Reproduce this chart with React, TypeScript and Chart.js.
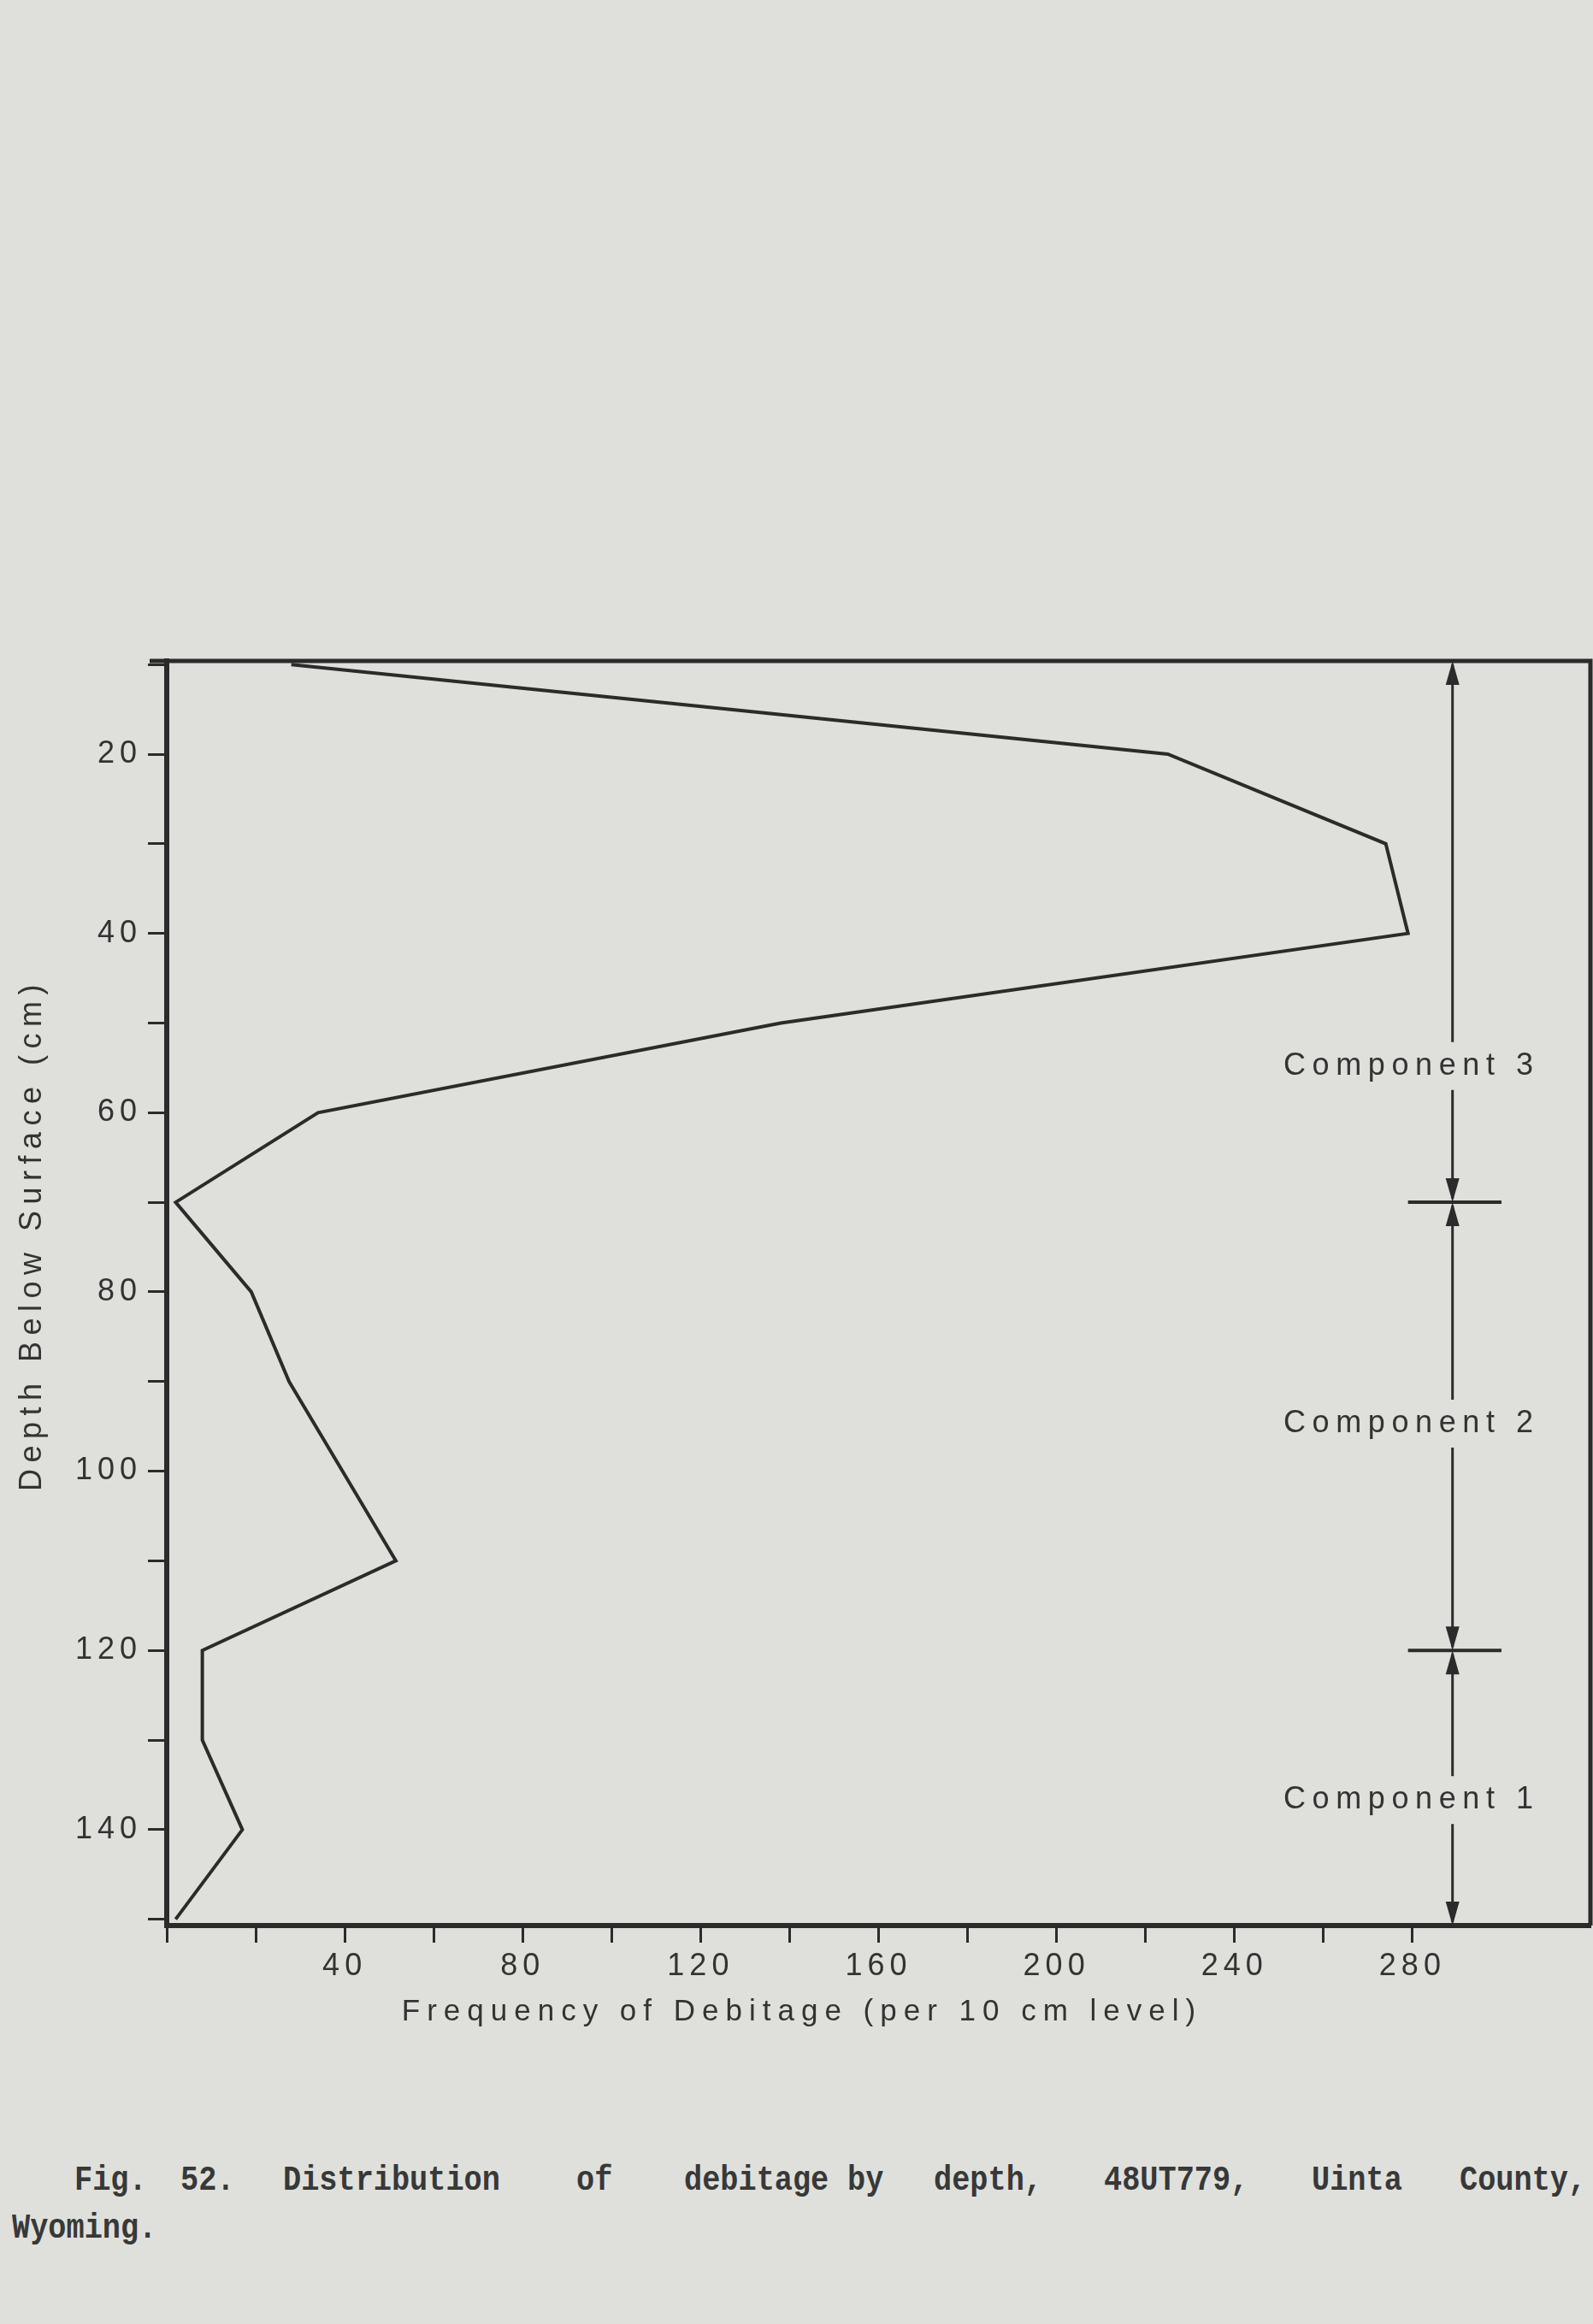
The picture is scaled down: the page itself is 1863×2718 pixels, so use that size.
import React, { useEffect, useRef } from "react";
import { Chart, registerables } from "chart.js";

Chart.register(...registerables);

// ---- data ----
const depths = [10, 20, 30, 40, 50, 60, 70, 80, 90, 100, 110, 120, 130, 140, 150];
const frequencies = [28, 225, 274, 279, 138, 34, 2, 19, 27.5, 39.5, 51.5, 8, 8, 17, 2];

const xTickValues = [0, 20, 40, 60, 80, 100, 120, 140, 160, 180, 200, 220, 240, 260, 280];
const xTickLabels = [40, 80, 120, 160, 200, 240, 280];
const yTickValues = [10, 20, 30, 40, 50, 60, 70, 80, 90, 100, 110, 120, 130, 140, 150];
const yTickLabels = [20, 40, 60, 80, 100, 120, 140];

const componentNames = ["Component 3", "Component 2", "Component 1"];
const componentTops = [10, 70, 120];
const componentBottoms = [70, 120, 150];
const componentLabelDepths = [54.8, 94.7, 136.7];
const bracketFrequency = 289;
const dividerFrom = 279;
const dividerTo = 300;
const labelStartFrequency = 251;

const xTitle = "Frequency of Debitage (per 10 cm level)";
const yTitle = "Depth Below Surface (cm)";
const captionWords = ["Fig.", "52.", "Distribution", "of", "debitage", "by", "depth,", "48UT779,", "Uinta", "County,"];
const captionLine2 = "Wyoming.";

// ---- styles ----
const PAPER = "#dfe0db";
const INK = "#2b2b2b";
const TEXT = "#333333";
const SANS = '"Liberation Sans", Arial, Helvetica, sans-serif';
const captionLefts = [87, 211, 331, 674, 800, 991, 1092, 1291, 1534, 1707];

const annotPlugin = {
  id: "annot",
  beforeDraw(chart: any) {
    chart.ctx.letterSpacing = "6px";
  },
  afterDraw(chart: any) {
    const { ctx, chartArea: ca, scales } = chart;
    const x = scales.x;
    const y = scales.y;
    ctx.save();
    ctx.letterSpacing = "0px";
    ctx.strokeStyle = INK;
    ctx.fillStyle = INK;

    // top and right frame
    ctx.lineWidth = 5;
    ctx.beginPath();
    ctx.moveTo(ca.left - 20, ca.top);
    ctx.lineTo(ca.right, ca.top);
    ctx.lineTo(ca.right, ca.bottom);
    ctx.stroke();

    const clampY = (v: number) => Math.min(ca.bottom, Math.max(ca.top, y.getPixelForValue(v)));
    const bx = x.getPixelForValue(bracketFrequency);
    const aLen = 28;
    const aHalf = 8;
    const gap = 28;

    const arrow = (tipY: number, dir: number) => {
      ctx.beginPath();
      ctx.moveTo(bx, tipY);
      ctx.lineTo(bx - aHalf, tipY + dir * aLen);
      ctx.lineTo(bx + aHalf, tipY + dir * aLen);
      ctx.closePath();
      ctx.fill();
    };

    ctx.font = `36px ${SANS}`;
    ctx.textBaseline = "middle";
    ctx.textAlign = "left";
    componentNames.forEach((name, i) => {
      const top = i === 0 ? ca.top : clampY(componentTops[i]);
      const bottom = i === componentNames.length - 1 ? ca.bottom : clampY(componentBottoms[i]);
      const ly = y.getPixelForValue(componentLabelDepths[i]);
      ctx.lineWidth = 3;
      ctx.beginPath();
      ctx.moveTo(bx, top + 4);
      ctx.lineTo(bx, ly - gap);
      ctx.moveTo(bx, ly + gap);
      ctx.lineTo(bx, bottom - 4);
      ctx.stroke();
      arrow(top, 1);
      arrow(bottom, -1);
      ctx.save();
      ctx.letterSpacing = "7.6px";
      ctx.fillStyle = TEXT;
      ctx.fillText(name, x.getPixelForValue(labelStartFrequency), ly);
      ctx.restore();
    });

    // divider bars
    ctx.lineWidth = 4;
    componentTops.slice(1).forEach((d) => {
      const py = y.getPixelForValue(d);
      ctx.beginPath();
      ctx.moveTo(x.getPixelForValue(dividerFrom), py);
      ctx.lineTo(x.getPixelForValue(dividerTo), py);
      ctx.stroke();
    });

    // axis titles
    ctx.fillStyle = TEXT;
    ctx.textAlign = "center";
    ctx.textBaseline = "middle";
    ctx.font = `35px ${SANS}`;
    ctx.letterSpacing = "8px";
    ctx.fillText(xTitle, 938, ca.bottom + 101);

    ctx.save();
    ctx.translate(38, y.getPixelForValue(74));
    ctx.rotate(-Math.PI / 2);
    ctx.font = `36px ${SANS}`;
    ctx.letterSpacing = "7.5px";
    ctx.fillText(yTitle, 4, 0);
    ctx.restore();

    ctx.restore();
  },
};

export default function App() {
  const canvasRef = useRef<HTMLCanvasElement | null>(null);

  useEffect(() => {
    const canvas = canvasRef.current;
    if (!canvas) return;
    const chart = new Chart(canvas, {
      type: "line",
      data: {
        datasets: [
          {
            data: depths.map((d, i) => ({ x: frequencies[i], y: d })),
            borderColor: INK,
            borderWidth: 4,
            pointRadius: 0,
            fill: false,
            tension: 0,
          },
        ],
      },
      options: {
        animation: false,
        responsive: false,
        maintainAspectRatio: false,
        layout: { padding: { left: 0, right: 3, top: 73, bottom: 0 } },
        plugins: {
          legend: { display: false },
          tooltip: { enabled: false },
        },
        scales: {
          x: {
            type: "linear",
            position: "bottom",
            min: 0,
            max: 320,
            afterBuildTicks: (s: any) => {
              s.ticks = xTickValues.map((v) => ({ value: v }));
            },
            afterFit: (s: any) => {
              s.height = 168;
            },
            ticks: {
              autoSkip: false,
              maxRotation: 0,
              padding: 6,
              color: TEXT,
              font: { family: SANS, size: 36 },
              callback: (v: any) => (xTickLabels.includes(Number(v)) ? String(v) : ""),
            },
            grid: {
              display: true,
              drawOnChartArea: false,
              drawTicks: true,
              tickLength: 20,
              tickWidth: 3,
              tickColor: INK,
            },
            border: { display: true, color: INK, width: 6 },
          },
          y: {
            type: "linear",
            position: "left",
            reverse: true,
            min: 9.6,
            max: 150.7,
            afterBuildTicks: (s: any) => {
              s.ticks = yTickValues.map((v) => ({ value: v }));
            },
            afterFit: (s: any) => {
              s.width = 195;
            },
            ticks: {
              autoSkip: false,
              padding: 7,
              color: TEXT,
              font: { family: SANS, size: 36 },
              callback: (v: any) => (yTickLabels.includes(Number(v)) ? String(v) : ""),
            },
            grid: {
              display: true,
              drawOnChartArea: false,
              drawTicks: true,
              tickLength: 22,
              tickWidth: 3,
              tickColor: INK,
            },
            border: { display: true, color: INK, width: 6 },
          },
        },
      },
      plugins: [annotPlugin],
    } as any);
    return () => chart.destroy();
  }, []);

  const capStyle: React.CSSProperties = {
    position: "absolute",
    fontFamily: '"Liberation Mono", "DejaVu Sans Mono", monospace',
    fontSize: 41,
    fontWeight: "bold",
    lineHeight: "41px",
    color: "#383838",
    whiteSpace: "nowrap",
    transform: "scaleX(0.86)",
    transformOrigin: "left center",
  };

  return (
    <div
      style={{
        position: "absolute",
        left: 0,
        top: 0,
        width: 1863,
        height: 2718,
        background: PAPER,
        overflow: "hidden",
      }}
    >
      <canvas
        ref={canvasRef}
        width={1863}
        height={1720}
        style={{ position: "absolute", left: 0, top: 700, width: 1863, height: 1720 }}
      />
      {captionWords.map((w, i) => (
        <span key={i} style={{ ...capStyle, left: captionLefts[i], top: 2530 }}>
          {w}
        </span>
      ))}
      <span style={{ ...capStyle, left: 14, top: 2586 }}>{captionLine2}</span>
    </div>
  );
}
